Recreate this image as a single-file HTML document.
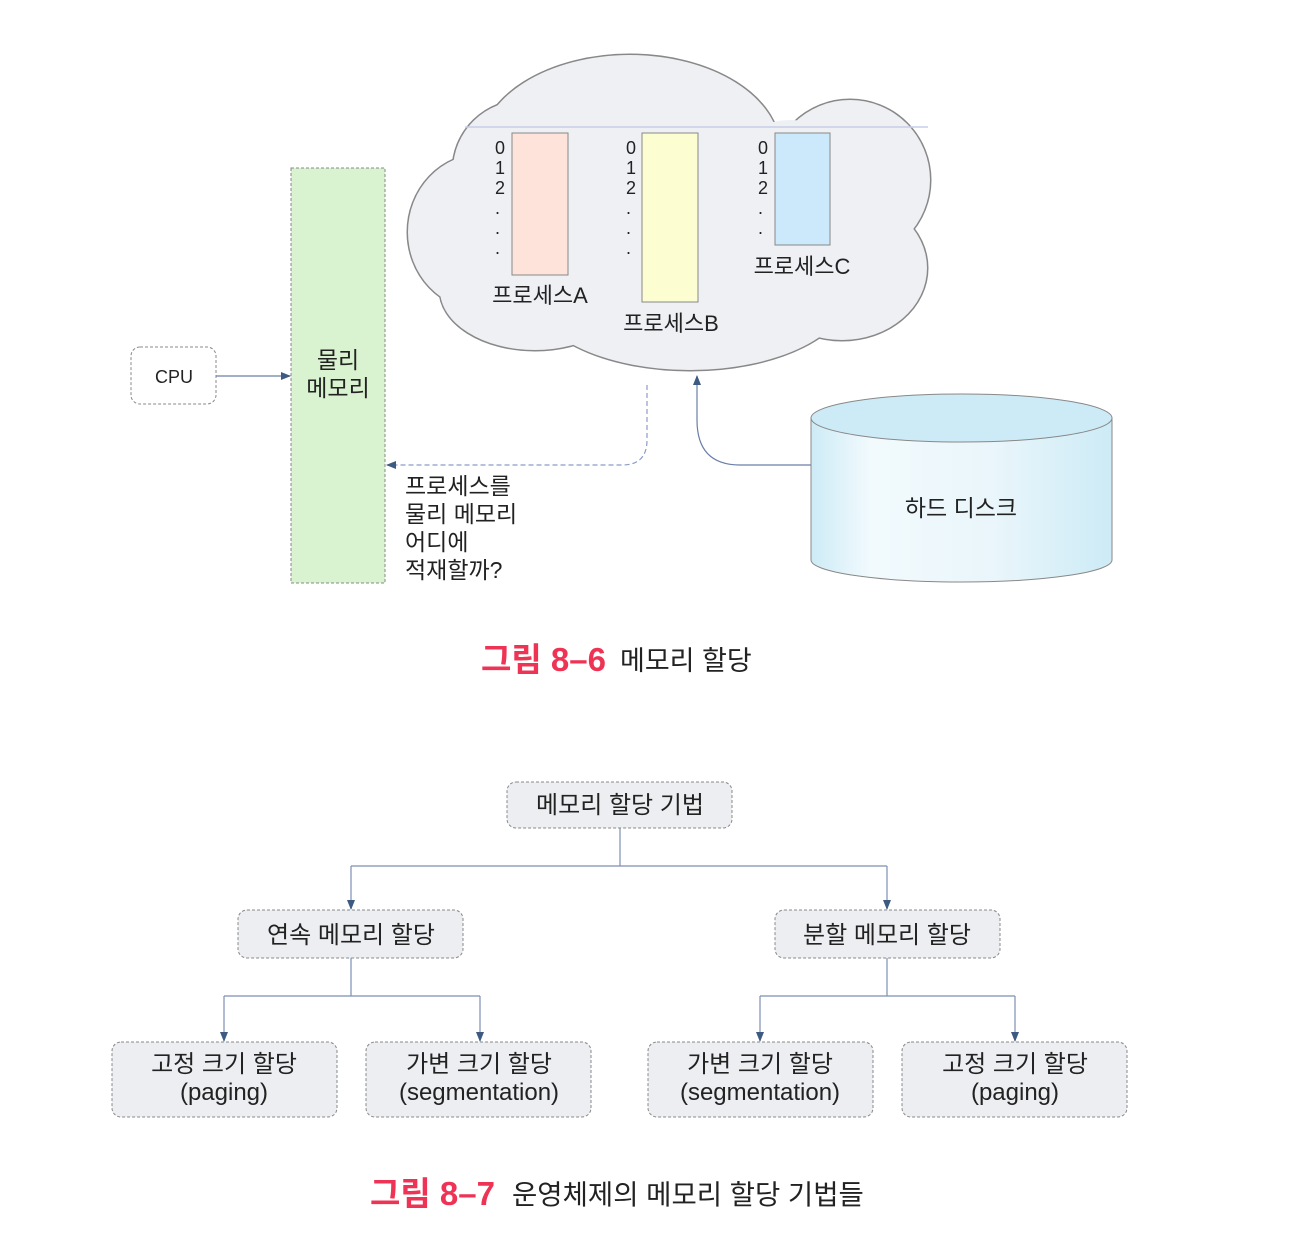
<!DOCTYPE html>
<html><head><meta charset="utf-8"><style>
html,body{margin:0;padding:0;background:#fff;}
svg{display:block;}
text{font-family:"Liberation Sans","Noto Sans CJK KR",sans-serif;fill:#222;}
.m{font-family:"Liberation Mono","Noto Sans CJK KR",monospace;}
</style></head><body>
<svg width="1290" height="1250" viewBox="0 0 1290 1250" xmlns="http://www.w3.org/2000/svg">
<defs>
<marker id="ar" markerWidth="10" markerHeight="10" refX="9" refY="5" orient="auto" markerUnits="userSpaceOnUse">
<path d="M0,1 L10,5 L0,9 z" fill="#3d5a80"/></marker>
<linearGradient id="cy" x1="0" x2="1" y1="0" y2="0">
<stop offset="0" stop-color="#cdebf6"/><stop offset="0.2" stop-color="#f2fafd"/><stop offset="0.6" stop-color="#eaf6fb"/><stop offset="1" stop-color="#cdebf6"/></linearGradient>
</defs>
<!-- cloud -->
<g fill="none" stroke="#888" stroke-width="3">
<ellipse cx="630" cy="150" rx="150" ry="95"/>
<ellipse cx="525" cy="170" rx="72" ry="70"/>
<ellipse cx="850" cy="180" rx="80" ry="80"/>
<ellipse cx="482" cy="232" rx="74" ry="78"/>
<ellipse cx="690" cy="290" rx="160" ry="80"/>
<ellipse cx="842" cy="268" rx="85" ry="72"/>
<ellipse cx="535" cy="290" rx="95" ry="60"/>
</g>
<g fill="#eef0f4">
<ellipse cx="630" cy="150" rx="150" ry="95"/>
<ellipse cx="525" cy="170" rx="72" ry="70"/>
<ellipse cx="850" cy="180" rx="80" ry="80"/>
<ellipse cx="482" cy="232" rx="74" ry="78"/>
<ellipse cx="690" cy="290" rx="160" ry="80"/>
<ellipse cx="842" cy="268" rx="85" ry="72"/>
<ellipse cx="535" cy="290" rx="95" ry="60"/>
<ellipse cx="790" cy="170" rx="60" ry="50"/>
<rect x="480" y="140" width="400" height="170"/>
</g>
<line x1="465" y1="127" x2="928" y2="127" stroke="#c8cde8" stroke-width="1.5"/>
<rect x="512" y="133" width="56" height="142" fill="#fde3da" stroke="#888" stroke-width="1"/>
<rect x="642" y="133" width="56" height="169" fill="#fdfdd2" stroke="#888" stroke-width="1"/>
<rect x="775" y="133" width="55" height="112" fill="#cbe9fb" stroke="#888" stroke-width="1"/>
<g class="m" font-size="18">
<text x="495" y="154">0</text><text x="495" y="174">1</text><text x="495" y="194">2</text>
<text x="495" y="214">.</text><text x="495" y="234">.</text><text x="495" y="254">.</text>
<text x="626" y="154">0</text><text x="626" y="174">1</text><text x="626" y="194">2</text>
<text x="626" y="214">.</text><text x="626" y="234">.</text><text x="626" y="254">.</text>
<text x="758" y="154">0</text><text x="758" y="174">1</text><text x="758" y="194">2</text>
<text x="758" y="214">.</text><text x="758" y="234">.</text>
</g>
<g font-size="22" text-anchor="middle">
<text x="540" y="303">프로세스A</text>
<text x="671" y="331">프로세스B</text>
<text x="802" y="274">프로세스C</text>
</g>
<!-- physical memory -->
<rect x="291" y="168" width="94" height="415" fill="#d9f2cf" stroke="#888" stroke-width="1" stroke-dasharray="3,2"/>
<text x="338" y="368" font-size="23" text-anchor="middle">물리</text>
<text x="338" y="396" font-size="23" text-anchor="middle">메모리</text>
<rect x="131" y="347" width="85" height="57" rx="9" fill="#fff" stroke="#888" stroke-width="1" stroke-dasharray="3,2"/>
<text x="174" y="383" font-size="18" text-anchor="middle">CPU</text>
<line x1="216" y1="376" x2="290" y2="376" stroke="#6b7fa8" stroke-width="1.2" marker-end="url(#ar)"/>
<path d="M647,385 L647,440 Q647,465 622,465 L387,465" fill="none" stroke="#8a9cc8" stroke-width="1.2" stroke-dasharray="5,3" marker-end="url(#ar)"/>
<g font-size="23"><text x="405" y="494">프로세스를</text><text x="405" y="522">물리 메모리</text><text x="405" y="550">어디에</text><text x="405" y="578">적재할까?</text></g>
<!-- disk -->
<path d="M811,418 L811,560 A150.5,22 0 0 0 1112,560 L1112,418 Z" fill="url(#cy)" stroke="#888" stroke-width="1"/>
<ellipse cx="961.5" cy="418" rx="150.5" ry="24" fill="#cdebf6" stroke="#888" stroke-width="1"/>
<text x="961" y="516" font-size="23" text-anchor="middle">하드 디스크</text>
<path d="M811,465 L740,465 Q697,465 697,420 L697,376" fill="none" stroke="#6b7fa8" stroke-width="1.2" marker-end="url(#ar)"/>
<text x="481" y="671" font-size="33" font-weight="bold" style="fill:#ee3355">그림 8–6</text>
<text x="620" y="670" font-size="27">메모리 할당</text>
<!-- tree -->
<g fill="none" stroke="#7d8fb5" stroke-width="1.2">
<path d="M620,828 L620,866 M351,866 L887,866"/>
<path d="M351,866 L351,909" marker-end="url(#ar)"/><path d="M887,866 L887,909" marker-end="url(#ar)"/>
<path d="M351,958 L351,996 M224,996 L480,996"/>
<path d="M224,996 L224,1041" marker-end="url(#ar)"/><path d="M480,996 L480,1041" marker-end="url(#ar)"/>
<path d="M887,958 L887,996 M760,996 L1015,996"/>
<path d="M760,996 L760,1041" marker-end="url(#ar)"/><path d="M1015,996 L1015,1041" marker-end="url(#ar)"/>
</g>
<g fill="#eceef1" stroke="#888" stroke-width="1" stroke-dasharray="3,2">
<rect x="507" y="782" width="225" height="46" rx="9"/>
<rect x="238" y="910" width="225" height="48" rx="9"/>
<rect x="775" y="910" width="225" height="48" rx="9"/>
<rect x="112" y="1042" width="225" height="75" rx="9"/>
<rect x="366" y="1042" width="225" height="75" rx="9"/>
<rect x="648" y="1042" width="225" height="75" rx="9"/>
<rect x="902" y="1042" width="225" height="75" rx="9"/>
</g>
<g font-size="24" text-anchor="middle">
<text x="620" y="813">메모리 할당 기법</text>
<text x="351" y="943">연속 메모리 할당</text>
<text x="887" y="943">분할 메모리 할당</text>
<text x="224" y="1072">고정 크기 할당</text><text x="224" y="1100">(paging)</text>
<text x="479" y="1072">가변 크기 할당</text><text x="479" y="1100">(segmentation)</text>
<text x="760" y="1072">가변 크기 할당</text><text x="760" y="1100">(segmentation)</text>
<text x="1015" y="1072">고정 크기 할당</text><text x="1015" y="1100">(paging)</text>
</g>
<text x="370" y="1205" font-size="33" font-weight="bold" style="fill:#ee3355">그림 8–7</text>
<text x="512" y="1204" font-size="27.5">운영체제의 메모리 할당 기법들</text>
</svg>
</body></html>
